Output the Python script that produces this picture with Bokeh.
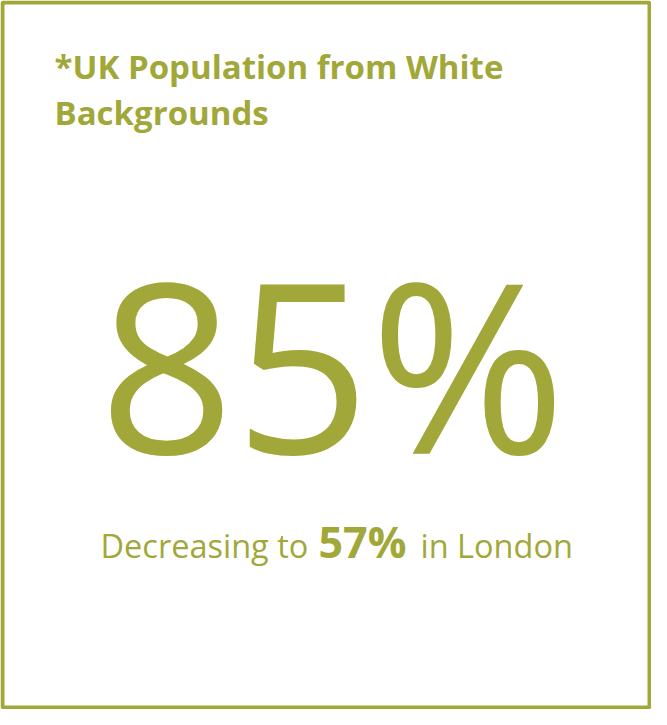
from bokeh.plotting import figure
from bokeh.models import Range1d
from bokeh.core.properties import value
from bokeh.embed import file_html
from bokeh.resources import INLINE

# ---- content ----
title_lines = ["*UK Population from White", "Backgrounds"]
headline = ["85%"]
sub_parts = ["Decreasing to", "57%", "in London"]
sub_bold = [False, True, False]

COLOR = "#a1a839"
FONT = "Open Sans"
W, H = 651, 709

p = figure(width=W, height=H, output_backend="svg", toolbar_location=None,
           x_range=Range1d(0, W), y_range=Range1d(0, H), min_border=0)
p.axis.visible = False
p.grid.visible = False
p.outline_line_color = None
p.background_fill_color = "white"
p.border_fill_color = "white"

# frame
p.quad(left=[2], right=[W - 2], bottom=[2], top=[H - 2], fill_color=None,
       line_color=COLOR, line_width=4)

# title
p.text(x=[54] * len(title_lines), y=[643, 597], text=title_lines,
       text_font=value(FONT), text_font_style="bold", text_font_size="33px",
       text_color=COLOR, text_align="left", text_baseline="alphabetic")

# headline
p.text(x=[332], y=[348], text=headline, text_font=value(FONT),
       text_font_size="237px", text_color=COLOR, text_align="center",
       text_baseline="alphabetic")

# sub line
xs = [100, 318, 420]
ys = [164, 168, 164]
for x, y, t, b in zip(xs, ys, sub_parts, sub_bold):
    p.text(x=[x], y=[y], text=[t], text_font=value(FONT),
           text_font_style="bold" if b else "normal",
           text_font_size="43px" if b else "32.5px",
           text_color=COLOR, text_align="left", text_baseline="alphabetic")

open("out.html", "w").write(file_html(p, INLINE))
